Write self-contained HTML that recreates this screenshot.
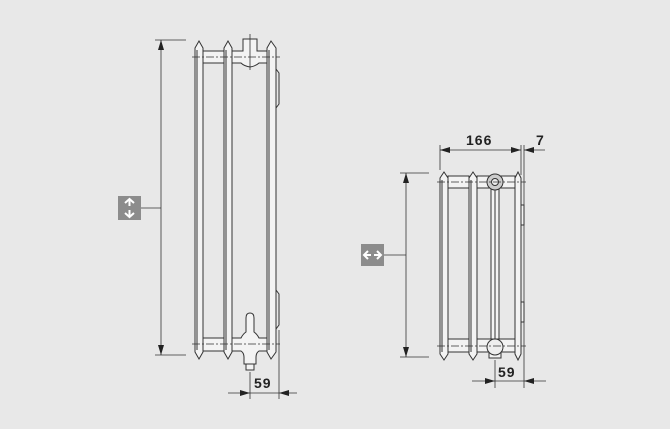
<!DOCTYPE html>
<html><head><meta charset="utf-8"><style>
html,body{margin:0;padding:0;background:#e8e8e8}
svg{display:block}
text{font-family:"Liberation Sans",sans-serif;font-size:14px;font-weight:bold;fill:#222;letter-spacing:1px}
</style></head><body>
<svg width="670" height="429" viewBox="0 0 670 429" xmlns="http://www.w3.org/2000/svg">
<defs>
<marker id="a" viewBox="0 0 10 6" refX="10" refY="3" markerWidth="10" markerHeight="6" orient="auto-start-reverse" markerUnits="userSpaceOnUse"><path d="M0,0L10,3L0,6z" fill="#222"/></marker>
</defs>
<rect width="670" height="429" fill="#e8e8e8"/>
<g stroke="#333" stroke-width="1" fill="#f3f3f3">
<!-- LEFT DIAGRAM tubes -->
<path d="M195,48 L199,41 L203,48 V352 L199,359 L195,352 Z"/>
<path d="M224,48 L228,41 L232,48 V352 L228,359 L224,352 Z"/>
<path d="M267,48 L271,41 L276,48 V352 L271,359 L267,352 Z"/>
<line x1="197" y1="50" x2="197" y2="350"/><line x1="226" y1="50" x2="226" y2="350"/><line x1="269" y1="50" x2="269" y2="350"/>
<!-- header segments -->
<rect x="203" y="51" width="21" height="12"/>
<rect x="203" y="338" width="21" height="13"/>
<!-- top valve + header -->
<path d="M232,51 H243 V39 H257 V51 H267 V63 H259 Q256,66 250,67 Q244,66 241,63 H232 Z"/>
<!-- bottom valve + header -->
<path d="M232,338 H241 Q243,334 246,332 V318 Q246,313 250,313 Q254,313 254,318 V332 Q257,334 259,338 H267 V351 H259 Q256,353 256,357 V364 H244 V357 Q244,353 241,351 H232 Z"/>
<rect x="246" y="364" width="8" height="6"/>
<!-- brackets -->
<path d="M276,69 L279,73 V104 L276,108" fill="none"/>
<path d="M276,290 L279,294 V325 L276,329" fill="none"/>
<!-- RIGHT DIAGRAM -->
<path d="M440,178 L444,172 L448,178 V354 L444,360 L440,354 Z"/>
<path d="M469,178 L473,172 L477,178 V354 L473,360 L469,354 Z"/>
<path d="M515,178 L518,172 L521,178 V354 L518,360 L515,354 Z"/>
<line x1="442" y1="180" x2="442" y2="352"/><line x1="471" y1="180" x2="471" y2="352"/>
<rect x="448" y="176" width="21" height="12"/>
<rect x="477" y="176" width="38" height="12"/>
<rect x="448" y="339" width="21" height="13"/>
<rect x="477" y="339" width="38" height="13"/>
<rect x="491" y="188" width="8" height="151"/>
<line x1="495" y1="188" x2="495" y2="339"/>
<circle cx="495" cy="182" r="8" fill="#ccc"/>
<circle cx="495" cy="182" r="3.5" fill="#eee"/>
<rect x="489" y="352" width="12" height="6"/>
<circle cx="495" cy="347" r="8" fill="#eee"/>
<rect x="521" y="205" width="3" height="20"/>
<rect x="521" y="302" width="3" height="20"/>
</g>
<g stroke="#333" stroke-width="0.8" fill="none">
<line x1="192" y1="57" x2="280" y2="57" stroke-dasharray="8,2,2,2"/>
<line x1="192" y1="344" x2="280" y2="344" stroke-dasharray="8,2,2,2"/>
<line x1="250" y1="34" x2="250" y2="70"/>
<line x1="437" y1="182" x2="526" y2="182" stroke-dasharray="8,2,2,2"/>
<line x1="437" y1="346" x2="526" y2="346" stroke-dasharray="8,2,2,2"/>
<line x1="155" y1="40" x2="186" y2="40"/>
<line x1="155" y1="355" x2="186" y2="355"/>
<line x1="161" y1="40" x2="161" y2="355" marker-start="url(#a)" marker-end="url(#a)"/>
<line x1="141" y1="208" x2="161" y2="208"/>
<line x1="250" y1="372" x2="250" y2="399"/>
<line x1="279" y1="330" x2="279" y2="399"/>
<line x1="228" y1="393" x2="250" y2="393" marker-end="url(#a)"/>
<line x1="250" y1="393" x2="279" y2="393"/>
<line x1="297" y1="393" x2="279" y2="393" marker-end="url(#a)"/>
<line x1="400" y1="173" x2="429" y2="173"/>
<line x1="400" y1="357" x2="429" y2="357"/>
<line x1="406" y1="173" x2="406" y2="357" marker-start="url(#a)" marker-end="url(#a)"/>
<line x1="384" y1="255" x2="406" y2="255"/>
<line x1="440" y1="145" x2="440" y2="170"/>
<line x1="521" y1="145" x2="521" y2="175"/>
<line x1="524" y1="145" x2="524" y2="388"/>
<line x1="440" y1="150" x2="521" y2="150" marker-start="url(#a)" marker-end="url(#a)"/>
<line x1="545" y1="150" x2="524" y2="150" marker-end="url(#a)"/>
<line x1="495" y1="360" x2="495" y2="388"/>
<line x1="472" y1="381" x2="495" y2="381" marker-end="url(#a)"/>
<line x1="495" y1="381" x2="524" y2="381"/>
<line x1="546" y1="381" x2="524" y2="381" marker-end="url(#a)"/>
</g>
<text x="254" y="388">59</text>
<text x="466" y="145">166</text>
<text x="536" y="145">7</text>
<text x="498" y="377">59</text>
<rect x="118" y="196" width="23" height="24" fill="#8c8c8c"/>
<g stroke="#fff" stroke-width="2" fill="none">
<path d="M129.5,199 V206 M125,203 L129.5,199 L134,203"/>
<path d="M129.5,210 V217 M125,213 L129.5,217 L134,213"/>
</g>
<rect x="361" y="244" width="23" height="22" fill="#8c8c8c"/>
<g stroke="#fff" stroke-width="2" fill="none">
<path d="M364,255 H371 M368,251 L364,255 L368,259"/>
<path d="M374,255 H381 M377,251 L381,255 L377,259"/>
</g>
</svg>
</body></html>
